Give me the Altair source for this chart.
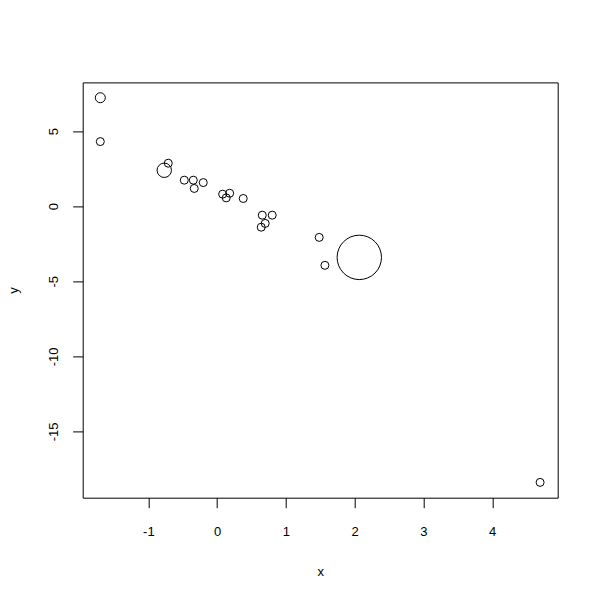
import altair as alt
import pandas as pd

# values
xs = [-1.699, -1.699, -0.711, -0.769, -0.478, -0.347, -0.333, -0.202, 0.080, 0.182,
      0.132, 0.379, 0.656, 0.801, 0.699, 0.641, 1.484, 1.567, 2.067, 4.696]
ys = [7.22, 4.30, 2.86, 2.39, 1.73, 1.73, 1.18, 1.57, 0.80, 0.86,
      0.55, 0.51, -0.60, -0.60, -1.15, -1.40, -2.08, -3.94, -3.41, -18.39]
# relative symbol size (cex) of each circle
cex = [1.25, 1.0, 1.0, 1.8, 1.0, 1.0, 1.0, 1.0, 1.0, 1.0,
       1.0, 1.0, 1.0, 1.0, 1.0, 1.0, 1.0, 1.0, 5.55, 1.0]

x_ticks = [-1, 0, 1, 2, 3, 4]
y_ticks = [-15, -10, -5, 0, 5]

df = pd.DataFrame({"x": xs, "y": ys, "cex": cex})

FONT = "Liberation Sans"

chart = (
    alt.Chart(df)
    .transform_calculate(sz="64*datum.cex*datum.cex")
    .mark_point(shape="circle", filled=False, color="black", strokeWidth=1, opacity=1)
    .encode(
        x=alt.X("x:Q", scale=alt.Scale(domain=[-1.955, 4.952], nice=False, zero=False),
                axis=alt.Axis(values=x_ticks, title="x", labelPadding=28,
                              labelExpr="datum.value + ''",
                              labelBaseline="alphabetic", labelAlign="center",
                              titleX=237.5, titleY=77.3, titleBaseline="alphabetic",
                              titleAlign="center")),
        y=alt.Y("y:Q", scale=alt.Scale(domain=[-19.41, 8.24], nice=False, zero=False),
                axis=alt.Axis(values=y_ticks, title="y", labelAngle=270, labelPadding=14.7,
                              labelExpr="datum.value + ''",
                              labelAlign="center", labelBaseline="alphabetic",
                              titleX=-65.5, titleY=207.6, titleAngle=270,
                              titleBaseline="alphabetic", titleAlign="center")),
        size=alt.Size("sz:Q", scale=None, legend=None),
    )
    .properties(
        width=475,
        height=415.3,
        autosize=alt.AutoSizeParams(type="none"),
        padding={"left": 74.7, "top": 74.4, "right": 34.3, "bottom": 94.3},
        background="white",
    )
    .configure_view(stroke="black", strokeWidth=1)
    .configure_axis(
        grid=False, domain=False, ticks=True, tickColor="black", tickSize=10, tickWidth=1,
        labelFont=FONT, labelFontSize=13, labelColor="black",
        titleFont=FONT, titleFontSize=13, titleColor="black", titleFontWeight="normal",
        labelOverlap=False, labelFlush=False,
    )
)

chart.save("out.html", embed_options={"renderer": "svg", "actions": False})
